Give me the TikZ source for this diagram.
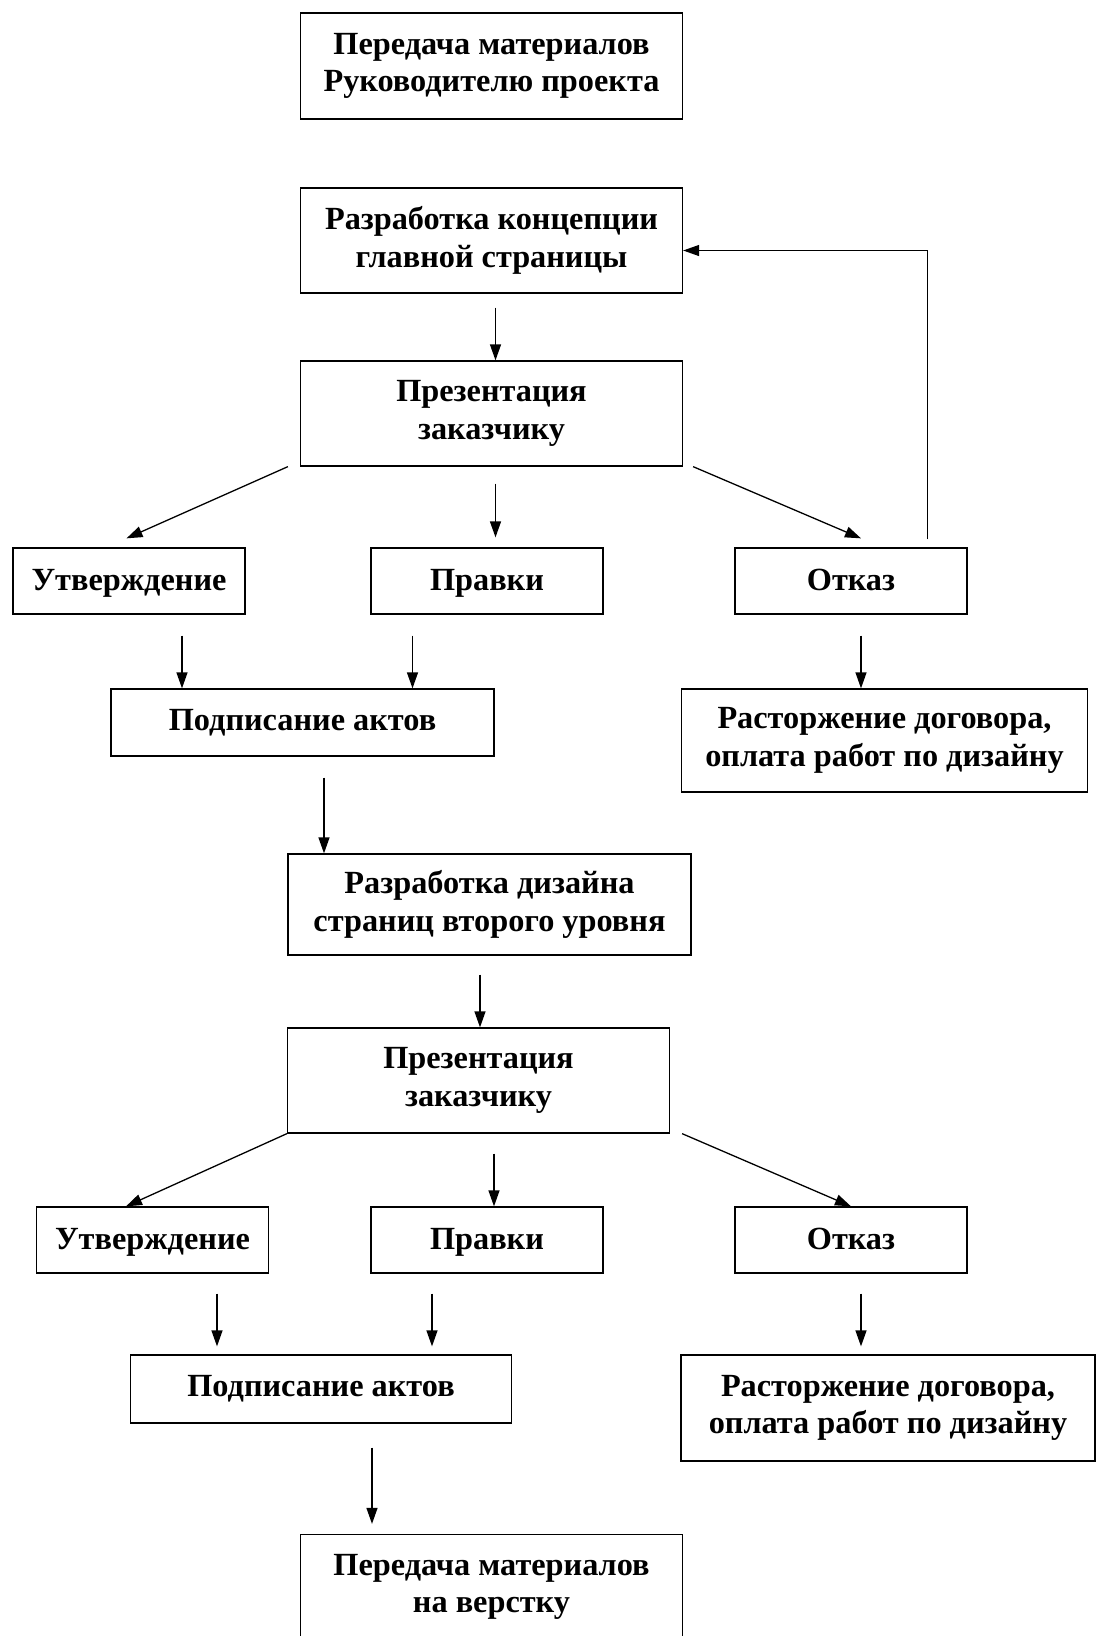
\documentclass[tikz,border=0pt]{standalone}
\usepackage{fontspec}
\setmainfont{Liberation Serif}
\usetikzlibrary{arrows.meta}

\tikzset{
  blok/.style={draw, line width=1.3pt, align=center, inner sep=0pt,
    font=\bfseries\fontsize{32.3}{37.6}\selectfont},
  malyj/.style={blok, minimum width=232pt, minimum height=66pt, text height=25pt, text depth=6.5pt},
  strelka/.style={-{Triangle[length=16pt,width=11pt]}, line width=1.3pt},
}

\begin{document}
\begin{tikzpicture}[x=1pt, y=-1pt]
  \useasboundingbox (0,0) rectangle (1096,1636);
  % first stage
  \node[blok, minimum width=382pt, minimum height=106pt] (start) at (491.5,66) {Передача материалов\\Руководителю проекта};
  \node[blok, minimum width=382pt, minimum height=105pt] (koncepcia) at (491.5,240.5) {Разработка концепции\\главной страницы};
  \node[blok, minimum width=382pt, minimum height=105pt] (prez1) at (491.5,413.5) {Презентация\\заказчику};
  \foreach \nm/\x/\txt in {utv1/129/Утверждение, prav1/487/Правки, otkaz1/851/Отказ} { \node[malyj] (\nm) at (\x,581) {\txt}; }
  \node[blok, minimum width=383pt, minimum height=67pt] (podp1) at (302.5,722.5) {Подписание актов};
  \node[blok, minimum width=406pt, minimum height=103pt] (rast1) at (884.5,740.5) {Расторжение договора,\\оплата работ по дизайну};
  % second stage
  \node[blok, minimum width=403pt, minimum height=101pt] (dizajn) at (489.5,904.5) {Разработка дизайна\\страниц второго уровня};
  \node[blok, minimum width=382pt, minimum height=105pt] (prez2) at (478.5,1080.5) {Презентация\\заказчику};
  \foreach \nm/\x/\txt in {utv2/152.5/Утверждение, prav2/487/Правки, otkaz2/851/Отказ} { \node[malyj] (\nm) at (\x,1240) {\txt}; }
  \node[blok, minimum width=381pt, minimum height=68pt] (podp2) at (321,1389) {Подписание актов};
  \node[blok, minimum width=414pt, minimum height=106pt] (rast2) at (888,1408) {Расторжение договора,\\оплата работ по дизайну};
  \node[blok, minimum width=382pt, minimum height=105pt] (verstka) at (491.5,1587) {Передача материалов\\на верстку};
  % vertical arrows: source / x offset / target / gap at start / gap at end
  \foreach \src/\dx/\dst/\ga/\gb in {koncepcia/4/prez1/14/0, prez1/4/prav1/17/10,
      utv1/53/podp1/21/0, prav1/-74.5/podp1/21/0, otkaz1/10/rast1/21/0,
      podp1/21.5/dizajn/21/0, dizajn/-9.5/prez2/19/0, prez2/15.5/prav2/20/0,
      utv2/64.5/podp2/20/8, prav2/-55/podp2/20/8, otkaz2/10/rast2/20/8,
      podp2/51/verstka/24/10}
    { \draw[strelka, shorten <=\ga pt, shorten >=\gb pt] ([xshift=\dx pt]\src.south) -- ([xshift=\dx pt]\src.south |- \dst.north); }
  % slanted arrows
  \draw[strelka] ([xshift=-12pt]prez1.south west) -- ([xshift=-2.5pt,yshift=9pt]utv1.north);
  \draw[strelka] ([xshift=10pt]prez1.south east) -- ([xshift=10pt,yshift=9pt]otkaz1.north);
  \draw[strelka] (prez2.south west) -- ([xshift=-26.5pt]utv2.north);
  \draw[strelka] ([xshift=12pt]prez2.south east) -- (otkaz2.north);
  % back to the concept
  \draw[strelka] ([xshift=-40pt,yshift=8pt]otkaz1.north east) |- ([yshift=-10pt]koncepcia.east);
\end{tikzpicture}
\end{document}
